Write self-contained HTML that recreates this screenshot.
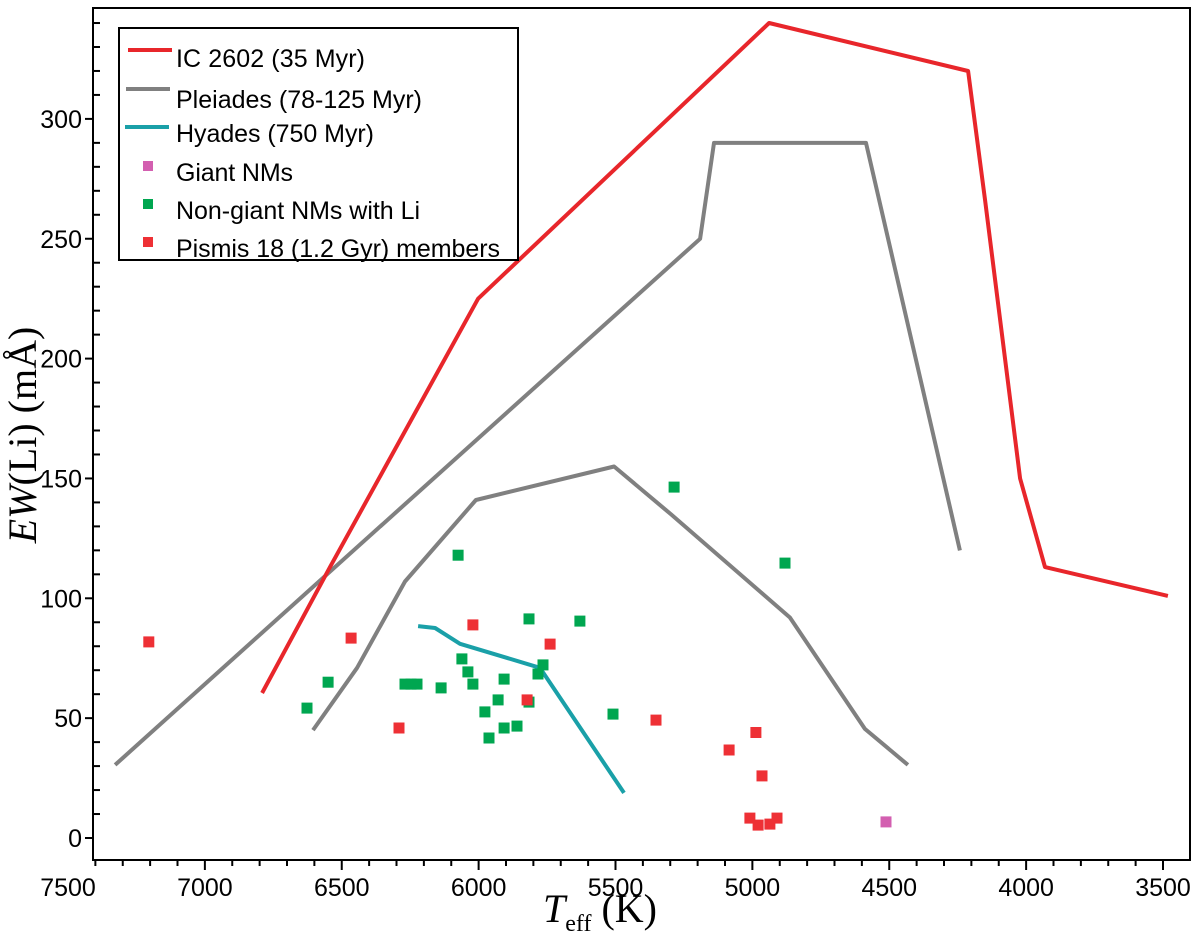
<!DOCTYPE html>
<html><head><meta charset="utf-8"><style>
html,body{margin:0;padding:0;background:#fff;}
svg{display:block;font-family:"Liberation Sans",sans-serif;}
</style></head><body>
<svg id="chart" width="1200" height="936" viewBox="0 0 1200 936" xmlns="http://www.w3.org/2000/svg">
<rect x="0" y="0" width="1200" height="936" fill="#fff"/>
<g id="plot"></g>
<g id="axes"></g>
<text transform="translate(36,435) rotate(-90)" text-anchor="middle" font-family="Liberation Serif, serif" font-size="40"><tspan font-style="italic">EW</tspan>(Li) (mÅ)</text>
<text x="600" y="922" text-anchor="middle" font-family="Liberation Serif, serif" font-size="40"><tspan font-style="italic">T</tspan><tspan font-size="24" dy="9">eff</tspan><tspan dy="-9"> (K)</tspan></text>
<g>
<rect x="119" y="28" width="399" height="232" fill="#fff" stroke="#000" stroke-width="2"/>
<line x1="128" y1="50" x2="172" y2="50" stroke="#e8262b" stroke-width="4"/>
<text x="176" y="67" font-size="25" textLength="189">IC 2602 (35 Myr)</text>
<line x1="126" y1="89" x2="170" y2="89" stroke="#808080" stroke-width="4"/>
<text x="176" y="108" font-size="25" textLength="246">Pleiades (78-125 Myr)</text>
<line x1="125" y1="127" x2="169" y2="127" stroke="#1aa0a8" stroke-width="4"/>
<text x="176" y="142" font-size="25" textLength="198">Hyades (750 Myr)</text>
<rect x="143" y="161" width="10" height="10" fill="#d35fb0"/>
<text x="176" y="181" font-size="25" textLength="117">Giant NMs</text>
<rect x="143" y="199" width="10" height="10" fill="#00a650"/>
<text x="176" y="219" font-size="25" textLength="244">Non-giant NMs with Li</text>
<rect x="143" y="237" width="10" height="10" fill="#ee3035"/>
<text x="176" y="257" font-size="25" textLength="324">Pismis 18 (1.2 Gyr) members</text>
</g>
</svg>
<script>
// Data
const ic2602T = [6791, 6543, 6002, 4939, 4212, 4150, 4022, 3931, 3482];
const ic2602EW = [60.5, 113, 225, 340, 320, 266, 150, 113, 101];
const pleiadesUpperT = [7328, 5191, 5140, 4585, 4242];
const pleiadesUpperEW = [30.5, 250, 290, 290, 120];
const pleiadesLowerT = [6605, 6444, 6269, 6010, 5505, 5297, 4863, 4589, 4432];
const pleiadesLowerEW = [45, 71, 107, 141, 155, 135, 92, 45.5, 30.5];
const hyadesT = [6221, 6159, 6068, 5776, 5469];
const hyadesEW = [88.4, 87.6, 81, 71, 18.8];
const giantT = [4512];
const giantEW = [6.7];
const nonGiantT = [6075,5816,5630,6061,6039,6021,5907,5765,5783,6550,6269,6247,6225,6137,5929,5977,5907,5860,5962,6627,5509,5816,4881,5286];
const nonGiantEW = [118,91.4,90.5,74.7,69.3,64.2,66.3,72.2,68.4,65,64.2,64.2,64.2,62.6,57.6,52.6,45.9,46.7,41.7,54.2,51.7,56.7,114.7,146.4];
const pismisT = [6021,6466,5739,5823,6291,5352,7205,4987,5085,4965,5009,4979,4936,4910];
const pismisEW = [88.9,83.4,80.9,57.6,45.9,49.2,81.8,44,36.7,25.9,8.3,5.4,5.8,8.3];
const xTicks = [7500,7000,6500,6000,5500,5000,4500,4000,3500];
const yTicks = [0,50,100,150,200,250,300];

const NS = "http://www.w3.org/2000/svg";
const X0 = 68, KX = 0.27375;
const xs = t => X0 + (7500 - t) * KX;
const ys = v => 838 - v * 2.397;
const plot = document.getElementById('plot');
const axes = document.getElementById('axes');
function mk(tag, attrs, parent){const e=document.createElementNS(NS,tag);for(const k in attrs)e.setAttribute(k,attrs[k]);parent.appendChild(e);return e;}

function line(T, E, color, name){
  const pts = T.map((t,i)=>xs(t).toFixed(1)+','+ys(E[i]).toFixed(1)).join(' ');
  const p = mk('polyline',{points:pts,fill:'none',stroke:color,'stroke-width':4,'stroke-linejoin':'round'},plot);
  
  
}
line(pleiadesUpperT, pleiadesUpperEW, '#808080', 'pleiades-upper-line');
line(pleiadesLowerT, pleiadesLowerEW, '#808080', 'pleiades-lower-line');
line(ic2602T, ic2602EW, '#e8262b', 'ic2602-line');
line(hyadesT, hyadesEW, '#1aa0a8', 'hyades-line');

function pts(T, E, color, name){
  T.forEach((t,i)=>{
    const r = mk('rect',{x:(xs(t)-5.5).toFixed(1),y:(ys(E[i])-5.5).toFixed(1),width:11,height:11,fill:color},plot);
    
    
  });
}
pts(nonGiantT, nonGiantEW, '#00a650', 'nongiant-point');
pts(pismisT, pismisEW, '#ee3035', 'pismis-point');
pts(giantT, giantEW, '#d35fb0', 'giant-point');

const fr = mk('rect',{x:93,y:8,width:1097,height:852,fill:'none',stroke:'#000','stroke-width':2},axes);


for(let t=7500;t>=3300;t-=100){
  const x=xs(t); if(x<93||x>1190) continue;
  const major = t%500===0;
  mk('line',{x1:x,y1:860,x2:x,y2:major?870:866,stroke:'#000','stroke-width':2},axes);
}
xTicks.forEach(t=>{
  const tx = mk('text',{x:xs(t),y:896,'text-anchor':'middle','font-size':25},axes);
  tx.textContent = t;
  
  
});
for(let v=-10;v<=345;v+=10){
  const y=ys(v); if(y<8||y>860) continue;
  const major = v%50===0;
  mk('line',{x1:major?85:93,y1:y,x2:major?93:100,y2:y,stroke:'#000','stroke-width':2},axes);
}
yTicks.forEach(v=>{
  const tx = mk('text',{x:82,y:ys(v)+9,'text-anchor':'end','font-size':25},axes);
  tx.textContent = v;
  
  
});
</script>
</body></html>
